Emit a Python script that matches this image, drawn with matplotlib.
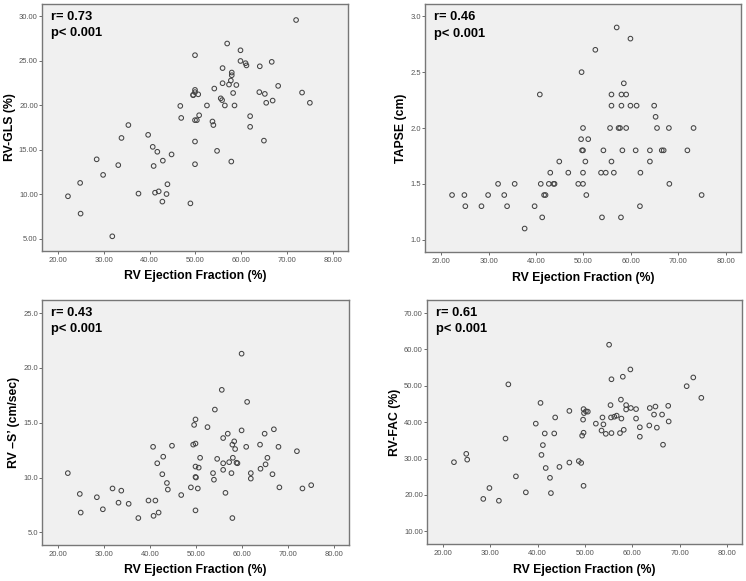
import matplotlib
matplotlib.use("Agg")
import matplotlib.pyplot as plt

plt.rcParams['font.family'] = ['Liberation Sans', 'DejaVu Sans']

# Panel 1: RV-GLS
gls_x = [71.9, 56.9, 59.8, 49.9, 59.8, 60.9, 61.1, 66.6, 64.0, 55.9, 57.9, 57.9, 55.9, 57.7,
         57.3, 58.9, 68.0, 54.1, 49.9, 49.9, 49.5, 50.6, 58.2, 63.9, 65.1, 73.2, 55.5, 55.8,
         46.7, 52.5, 56.4, 58.5, 66.8, 65.4, 74.9, 50.8, 46.9, 49.9, 50.3, 53.7, 53.9, 61.9,
         61.9, 35.4, 33.9, 39.7, 40.7, 41.7, 49.9, 64.9, 44.8, 54.7, 28.5, 33.2, 40.9, 42.9,
         49.9, 57.8, 29.9, 24.9, 43.9, 22.25, 37.6, 41.2, 42.0, 43.7, 42.8, 48.9, 25.0, 31.9,
         49.5]
gls_y = [29.6, 26.96, 26.2, 25.65, 25.0, 24.75, 24.5, 24.9, 24.4, 24.2, 23.7, 23.4, 22.5, 22.8,
         22.35, 22.3, 22.2, 21.9, 21.75, 21.5, 21.2, 21.25, 21.4, 21.5, 21.3, 21.45, 20.8, 20.6,
         19.95, 20.0, 20.0, 20.0, 20.55, 20.3, 20.3, 18.9, 18.6, 18.35, 18.35, 18.2, 17.8, 18.8,
         17.6, 17.8, 16.35, 16.7, 15.35, 14.8, 15.95, 16.05, 14.5, 14.9, 13.95, 13.3, 13.2, 13.8,
         13.4, 13.7, 12.2, 11.3, 11.15, 9.8, 10.1, 10.2, 10.35, 10.05, 9.2, 9.0, 7.85, 5.3,
         21.15]

# Panel 2: TAPSE
tapse_x = [57.0, 59.9, 52.5, 49.6, 58.5, 40.8, 55.9, 58.0, 59.0, 55.9, 58.0, 59.9, 61.2, 64.9,
           65.2, 49.9, 55.6, 57.4, 57.7, 59.0, 65.5, 68.0, 73.2, 49.5, 51.0, 49.9, 49.7, 54.2,
           58.2, 61.0, 64.0, 66.5, 66.9, 71.9, 44.9, 50.4, 55.9, 64.0, 43.0, 46.8, 49.9, 53.7,
           54.7, 56.4, 62.0, 32.0, 35.5, 41.0, 42.7, 43.7, 43.9, 48.9, 49.9, 68.1, 22.3, 24.9,
           29.9, 33.3, 41.7, 42.0, 50.6, 74.9, 25.1, 28.5, 33.9, 39.7, 61.9, 41.3, 53.9, 57.9,
           37.6]
tapse_y = [2.9, 2.8, 2.7, 2.5, 2.4, 2.3, 2.3, 2.3, 2.3, 2.2, 2.2, 2.2, 2.2, 2.2,
           2.1, 2.0, 2.0, 2.0, 2.0, 2.0, 2.0, 2.0, 2.0, 1.9, 1.9, 1.8, 1.8, 1.8,
           1.8, 1.8, 1.8, 1.8, 1.8, 1.8, 1.7, 1.7, 1.7, 1.7, 1.6, 1.6, 1.6, 1.6,
           1.6, 1.6, 1.6, 1.5, 1.5, 1.5, 1.5, 1.5, 1.5, 1.5, 1.5, 1.5, 1.4, 1.4,
           1.4, 1.4, 1.4, 1.4, 1.4, 1.4, 1.3, 1.3, 1.3, 1.3, 1.3, 1.2, 1.2, 1.2,
           1.1]

# Panel 3: RV S'
s_x = [59.9, 55.6, 61.1, 54.1, 49.9, 49.6, 52.5, 59.9, 66.9, 56.9, 64.9, 55.9, 58.3, 49.9,
       49.4, 57.9, 63.9, 58.5, 40.7, 44.8, 60.9, 67.9, 71.9, 42.9, 50.9, 58.0, 65.5, 54.6,
       57.2, 58.8, 59.0, 55.9, 41.6, 65.1, 49.9, 50.6, 64.0, 55.9, 22.2, 42.7, 53.7, 57.7,
       61.9, 66.6, 49.9, 50.0, 61.9, 53.9, 43.7, 73.1, 75.0, 68.1, 48.9, 31.9, 50.4, 43.9,
       33.8, 24.8, 56.4, 46.8, 28.5, 39.7, 41.2, 33.2, 35.4, 29.8, 25.0, 41.9, 49.9, 40.8,
       37.5, 57.9]
s_y = [21.3, 18.0, 16.9, 16.2, 15.3, 14.8, 14.6, 14.3, 14.4, 14.0, 14.0, 13.6, 13.3, 13.1,
       13.0, 13.0, 13.0, 12.6, 12.8, 12.9, 12.8, 12.8, 12.4, 11.9, 11.8, 11.8, 11.8, 11.7,
       11.4, 11.35, 11.3, 11.3, 11.3, 11.2, 11.0, 10.9, 10.8, 10.7, 10.4, 10.3, 10.4, 10.4,
       10.4, 10.3, 10.05, 10.0, 9.9, 9.8, 9.5, 9.0, 9.3, 9.1, 9.1, 9.0, 9.0, 8.9,
       8.8, 8.5, 8.6, 8.4, 8.2, 7.9, 7.9, 7.7, 7.6, 7.1, 6.8, 6.8, 7.0, 6.5,
       6.3, 6.3]

# Panel 4: RV-FAC
fac_x = [55.1, 59.6, 58.0, 55.6, 33.8, 71.5, 72.9, 74.6, 40.6, 57.6, 55.4, 58.7, 64.9, 67.6,
         49.7, 50.2, 50.6, 49.8, 46.7, 53.7, 55.5, 56.2, 56.7, 57.7, 58.7, 59.7, 60.8, 63.7,
         60.8, 43.7, 64.6, 66.3, 67.7, 39.6, 52.3, 53.9, 49.6, 63.6, 61.6, 65.2, 53.5, 58.2,
         41.5, 43.5, 54.4, 55.6, 57.4, 49.7, 49.4, 61.6, 33.2, 41.1, 66.5, 24.9, 40.8, 25.1,
         22.3, 48.7, 46.7, 49.2, 41.7, 44.6, 35.4, 42.6, 49.7, 29.8, 37.5, 42.8, 28.5, 31.8]
fac_y = [61.3, 54.5, 52.5, 51.8, 50.4, 49.9, 52.3, 46.7, 45.3, 46.2, 44.7, 44.7, 44.3, 44.5,
         43.6, 43.0, 42.9, 42.5, 43.1, 41.3, 41.3, 41.5, 41.8, 41.0, 43.5, 43.9, 43.6, 43.9,
         41.0, 41.3, 42.1, 42.1, 40.2, 39.6, 39.6, 39.4, 40.7, 39.1, 38.6, 38.5, 37.7, 37.9,
         36.9, 36.9, 36.8, 37.0, 37.0, 37.1, 36.3, 36.0, 35.5, 33.7, 33.8, 31.3, 31.0, 29.7,
         29.0, 29.3, 28.9, 28.8, 27.4, 27.7, 25.1, 24.7, 22.5, 21.9, 20.7, 20.5, 18.9, 18.4]

xticks = [20, 30, 40, 50, 60, 70, 80]
xlabel = "RV Ejection Fraction (%)"

panels = [
    dict(x=gls_x, y=gls_y, ylabel="RV-GLS (%)", r="r= 0.73", p="p< 0.001",
         yticks=[5, 10, 15, 20, 25, 30], yfmt="{:.2f}", ylim=(3.65, 31.4),
         rect=[42, 4, 348, 251]),
    dict(x=tapse_x, y=tapse_y, ylabel="TAPSE (cm)", r="r= 0.46", p="p< 0.001",
         yticks=[1.0, 1.5, 2.0, 2.5, 3.0], yfmt="{:.1f}", ylim=(0.89, 3.11),
         rect=[425, 4, 741, 252]),
    dict(x=s_x, y=s_y, ylabel="RV \u2013S\u2019 (cm/sec)", r="r= 0.43", p="p< 0.001",
         yticks=[5, 10, 15, 20, 25], yfmt="{:.1f}", ylim=(3.84, 26.2),
         rect=[42, 300, 349, 545]),
    dict(x=fac_x, y=fac_y, ylabel="RV-FAC (%)", r="r= 0.61", p="p< 0.001",
         yticks=[10, 20, 30, 40, 50, 60, 70], yfmt="{:.2f}", ylim=(6.5, 73.6),
         rect=[427, 300, 742, 544]),
]

W, H = 746, 581
fig = plt.figure(figsize=(W / 100, H / 100), dpi=100)
fig.patch.set_facecolor('white')

for pn in panels:
    l, t, r, b = pn["rect"]
    ax = fig.add_axes([l / W, 1 - b / H, (r - l) / W, (b - t) / H])
    ax.set_facecolor('#f0f0f0')
    ax.scatter(pn["x"], pn["y"], s=11, facecolors='none', edgecolors='#444444', linewidths=0.75)
    ax.set_xlim(16.6, 83.2)
    ax.set_ylim(*pn["ylim"])
    ax.set_xticks(xticks)
    ax.set_xticklabels(["{:.2f}".format(v) for v in xticks])
    ax.set_yticks(pn["yticks"])
    ax.set_yticklabels([pn["yfmt"].format(v) for v in pn["yticks"]])
    ax.tick_params(axis='x', length=2, width=0.6, color='#555555', labelsize=5.5,
                   labelcolor='#555555', pad=2)
    ax.tick_params(axis='y', length=2, width=0.6, color='#555555', labelsize=5.5,
                   labelcolor='#555555', pad=1)
    for s in ax.spines.values():
        s.set_color('#777777')
        s.set_linewidth(1.0)
    ax.set_xlabel(xlabel, fontsize=8.8, fontweight='bold', labelpad=5)
    ax.set_ylabel(pn["ylabel"], fontsize=8.8, fontweight='bold', labelpad=2)
    ax.text(0.03, 0.972, pn["r"], transform=ax.transAxes, fontsize=9.3, fontweight='bold',
            va='top', ha='left')
    ax.text(0.03, 0.905, pn["p"], transform=ax.transAxes, fontsize=9.3, fontweight='bold',
            va='top', ha='left')

fig.savefig("out.png", dpi=100)
